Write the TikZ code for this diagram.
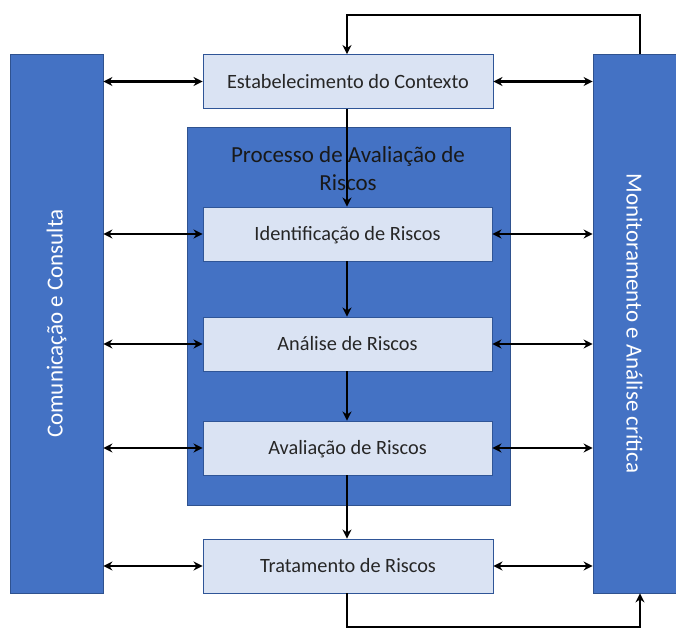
\documentclass[tikz,border=0pt]{standalone}
\usepackage{fontspec}
\setmainfont{Carlito}
\usetikzlibrary{arrows.meta}
\definecolor{barblue}{HTML}{4472C4}
\definecolor{barline}{HTML}{2F528F}
\definecolor{boxfill}{HTML}{DAE3F3}
\definecolor{boxline}{HTML}{2F5597}
\tikzset{
  sidebar/.style={draw=barline, line width=0.8pt, fill=barblue, inner sep=0pt},
  stepbox/.style={draw=boxline, line width=0.9pt, fill=boxfill, inner sep=0pt,
    minimum width=290pt, minimum height=54pt, font=\fontsize{20.3}{24}\selectfont, text=black!85,
    text depth=1pt},
  procbox/.style={draw=barline, line width=0.6pt, fill=barblue, inner sep=0pt,
    minimum width=323pt, minimum height=378pt},
  flow/.style={line width=2.2pt, -{Stealth[length=9pt,width=9pt]}},
  twoway/.style={line width=2.2pt, {Stealth[length=9pt,width=9pt]}-{Stealth[length=9pt,width=9pt]}},
}
\begin{document}
\begin{tikzpicture}[x=1pt,y=-1pt]
\useasboundingbox (0,0) rectangle (676,628);
\fill[white] (0,0) rectangle (676,628);

% side bars
\node[sidebar, minimum width=93pt, minimum height=539pt] (comm) at (56.5,323.5) {};
\node[rotate=90, text=white, font=\fontsize{23}{27}\selectfont] (commtext) at (comm.center) {Comunicação e Consulta};
\node[sidebar, minimum width=83pt, minimum height=539pt] (mon) at (634.5,323.5) {};
\node[rotate=-90, text=white, font=\fontsize{23}{27}\selectfont] (montext) at (mon.center) {Monitoramento e Análise crítica};

% risk assessment block
\node[procbox] (proc) at (348.5,316.5) {};
\node[align=center, font=\fontsize{23}{28}\selectfont, text=black!90, anchor=north] (title) at (348,143) {Processo de Avaliação de\\Riscos};

% process steps
\node[stepbox] (ctx) at (348,81.5) {Estabelecimento do Contexto};
\node[stepbox, minimum width=289pt] (ident) at (347.5,234) {Identificação de Riscos};
\node[stepbox, minimum width=289pt] (anal) at (347.5,344) {Análise de Riscos};
\node[stepbox, minimum width=289pt] (aval) at (347.5,448) {Avaliação de Riscos};
\node[stepbox] (trat) at (348,566) {Tratamento de Riscos};

% loop corners
\coordinate (topR) at (640,15);
\coordinate (topL) at (347,15);
\coordinate (botL) at (347,627);
\coordinate (botR) at (640,627);

% main flow
\draw[flow] (mon.north -| topR) -- (topR) -- (topL) -- (ctx.north -| topL);
\draw[flow] (ctx.south -| topL) -- (ident.north -| topL);
\draw[flow] (ident.south -| topL) -- (anal.north -| topL);
\draw[flow] (anal.south -| topL) -- (aval.north -| topL);
\draw[flow] (aval.south -| topL) -- (trat.north -| topL);
\draw[flow] (trat.south -| botL) -- (botL) -- (botR) -- (mon.south -| botR);

% communication links
\foreach \s in {ctx,ident,anal,aval,trat}{
  \draw[twoway] (comm.east |- \s.west) -- (\s.west);
  \draw[twoway] (\s.east) -- (mon.west |- \s.east);
}
\end{tikzpicture}
\end{document}
